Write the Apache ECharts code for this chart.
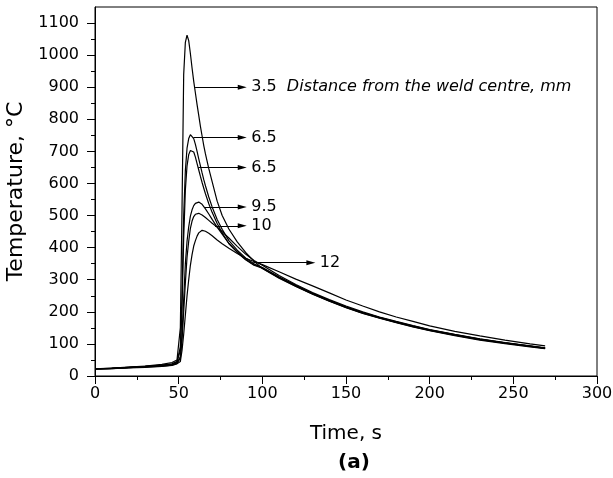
<!DOCTYPE html>
<html>
<head>
<meta charset="utf-8">
<script src="https://cdn.jsdelivr.net/npm/echarts@6/dist/echarts.min.js"></script>
<style>html,body{margin:0;padding:0;background:#fff;}#c{width:613px;height:478px;}</style>
</head>
<body>
<div id="c"></div>
<script>
// ---- data ----
const times = [0, 10, 20, 30, 40, 46, 49, 51, 52, 53, 54, 55, 56, 57, 58, 59, 60, 61, 62, 63, 64, 65, 66, 68, 70, 73, 76, 80, 85, 90, 95,
               100, 110, 120, 130, 140, 150, 160, 170, 180, 190, 200, 215, 230, 245, 260, 269];
const curveNames = ['3.5', '6.5 a', '6.5 b', '9.5', '10', '12'];
const temp_3_5 = [22, 25, 28, 31, 36, 42, 50, 150, 520, 940, 1040, 1062, 1045, 1005, 960, 918, 882, 846, 812, 778, 748, 718, 692, 646, 606, 545, 500, 458, 418, 385, 358,
                  335, 305, 279, 255, 233, 213, 195, 180, 166, 153, 141, 126, 112, 101, 91, 85];
const temp_6_5a = [22, 24, 27, 30, 34, 38, 45, 90, 250, 500, 640, 710, 740, 752, 750, 740, 722, 700, 677, 655, 633, 612, 593, 558, 527, 488, 457, 422, 392, 368, 350,
                   337, 307, 281, 257, 235, 215, 197, 182, 168, 155, 143, 128, 114, 103, 93, 87];
const temp_6_5b = [22, 24, 27, 30, 33, 37, 44, 80, 210, 430, 580, 655, 690, 703, 705, 698, 682, 662, 642, 622, 603, 585, 568, 537, 510, 475, 446, 413, 385, 362, 345,
                   336, 306, 280, 256, 234, 214, 196, 181, 167, 154, 142, 127, 113, 102, 92, 86];
const temp_9_5 = [22, 24, 26, 29, 32, 35, 41, 60, 130, 240, 350, 420, 465, 498, 518, 531, 538, 541, 542, 540, 535, 529, 521, 505, 488, 464, 442, 413, 387, 364, 347,
                  338, 309, 283, 258, 236, 216, 198, 183, 169, 156, 144, 129, 115, 103, 93, 87];
const temp_10 = [22, 23, 26, 28, 31, 34, 40, 55, 110, 200, 290, 370, 420, 460, 483, 497, 504, 507, 507, 505, 502, 498, 494, 485, 476, 464, 450, 430, 404, 380, 360,
                 345, 313, 285, 260, 238, 218, 200, 184, 170, 157, 145, 130, 116, 104, 94, 88];
const temp_12 = [22, 23, 25, 27, 30, 33, 38, 45, 80, 130, 190, 250, 300, 345, 378, 405, 422, 436, 446, 451, 454, 453, 451, 445, 437, 424, 412, 398, 382, 367, 357,
                 347, 325, 302, 281, 259, 237, 218, 200, 184, 170, 156, 139, 125, 112, 100, 94];
const temps = [temp_3_5, temp_6_5a, temp_6_5b, temp_9_5, temp_10, temp_12];

// annotation arrows (data coordinates)
const annoLabels = ['3.5', '6.5', '6.5', '9.5', '10', '12'];
const annoTemp = [900, 743, 650, 527, 468, 353];
const annoStart = [59.8, 58.8, 61.7, 65.7, 71.7, 94.6];
const annoEnd = [88, 88, 88, 88, 88, 129];
const annoNote = 'Distance from the weld centre, mm';

const yMajor = [0, 100, 200, 300, 400, 500, 600, 700, 800, 900, 1000, 1100];
const yMinor = [50, 150, 250, 350, 450, 550, 650, 750, 850, 950, 1050];
const xTitle = 'Time, s';
const yTitle = 'Temperature, \u00B0C';
const panelLabel = '(a)';

// ---- chart ----
const FONT = 'DejaVu Sans';
const chart = echarts.init(document.getElementById('c'), null, {renderer: 'canvas'});

const series = curveNames.map((name, i) => ({
  type: 'line',
  name: name,
  data: times.map((t, j) => [t, temps[i][j]]),
  showSymbol: false,
  symbol: 'none',
  smooth: false,
  lineStyle: {color: '#000', width: 1.2},
  emphasis: {disabled: true},
  markLine: {
    silent: true,
    symbol: ['none', 'triangle'],
    symbolSize: [5, 9],
    lineStyle: {color: '#000', width: 1, type: 'solid'},
    itemStyle: {color: '#000'},
    emphasis: {disabled: true},
    label: {
      show: true,
      position: 'end',
      distance: 9,
      color: '#000',
      fontFamily: FONT,
      fontSize: 16,
      formatter: i === 0 ? ('{n|' + annoLabels[i] + '}  {d|' + annoNote + '}') : annoLabels[i],
      rich: {
        n: {fontFamily: FONT, fontSize: 16, color: '#000'},
        d: {fontFamily: FONT, fontSize: 16, fontStyle: 'italic', color: '#000'}
      }
    },
    data: [[{coord: [annoStart[i], annoTemp[i]]}, {coord: [annoEnd[i], annoTemp[i]]}]]
  }
}));

const option = {
  animation: false,
  backgroundColor: '#fff',
  grid: {left: 95, right: 16, top: 7, bottom: 102, outerBoundsMode: 'none', containLabel: false,
         show: true, borderColor: '#000', borderWidth: 1, backgroundColor: 'transparent'},
  title: {
    text: panelLabel, left: 333, top: 448,
    textStyle: {fontFamily: FONT, fontSize: 20, fontWeight: 'bold', color: '#000'}
  },
  xAxis: {
    type: 'value', min: 0, max: 300, interval: 50,
    name: xTitle, nameLocation: 'middle', nameGap: 48,
    nameTextStyle: {fontFamily: FONT, fontSize: 20, color: '#000'},
    axisLine: {show: true, lineStyle: {color: '#000', width: 1}},
    axisTick: {show: true, length: 8, lineStyle: {color: '#000'}},
    minorTick: {show: true, splitNumber: 2, length: 4, lineStyle: {color: '#000'}},
    axisLabel: {fontFamily: FONT, fontSize: 16, color: '#000', margin: 10},
    splitLine: {show: false}
  },
  yAxis: [
    {
      type: 'value', min: 0, max: 1150,
      name: yTitle, nameLocation: 'middle', nameGap: 57,
      nameTextStyle: {fontFamily: FONT, fontSize: 22, color: '#000'},
      axisLine: {show: true, lineStyle: {color: '#000', width: 1}},
      axisTick: {show: true, length: 8, customValues: yMajor, lineStyle: {color: '#000'}},
      axisLabel: {fontFamily: FONT, fontSize: 16, color: '#000', margin: 16, customValues: yMajor,
                  formatter: v => String(v)},
      splitLine: {show: false}
    },
    {
      type: 'value', min: 0, max: 1150, position: 'left', offset: 0,
      axisLine: {show: false},
      axisTick: {show: true, length: 4, customValues: yMinor, lineStyle: {color: '#000'}},
      axisLabel: {show: false, customValues: yMinor},
      splitLine: {show: false}
    }
  ],
  series: series
};
chart.setOption(option);
</script>
</body>
</html>
